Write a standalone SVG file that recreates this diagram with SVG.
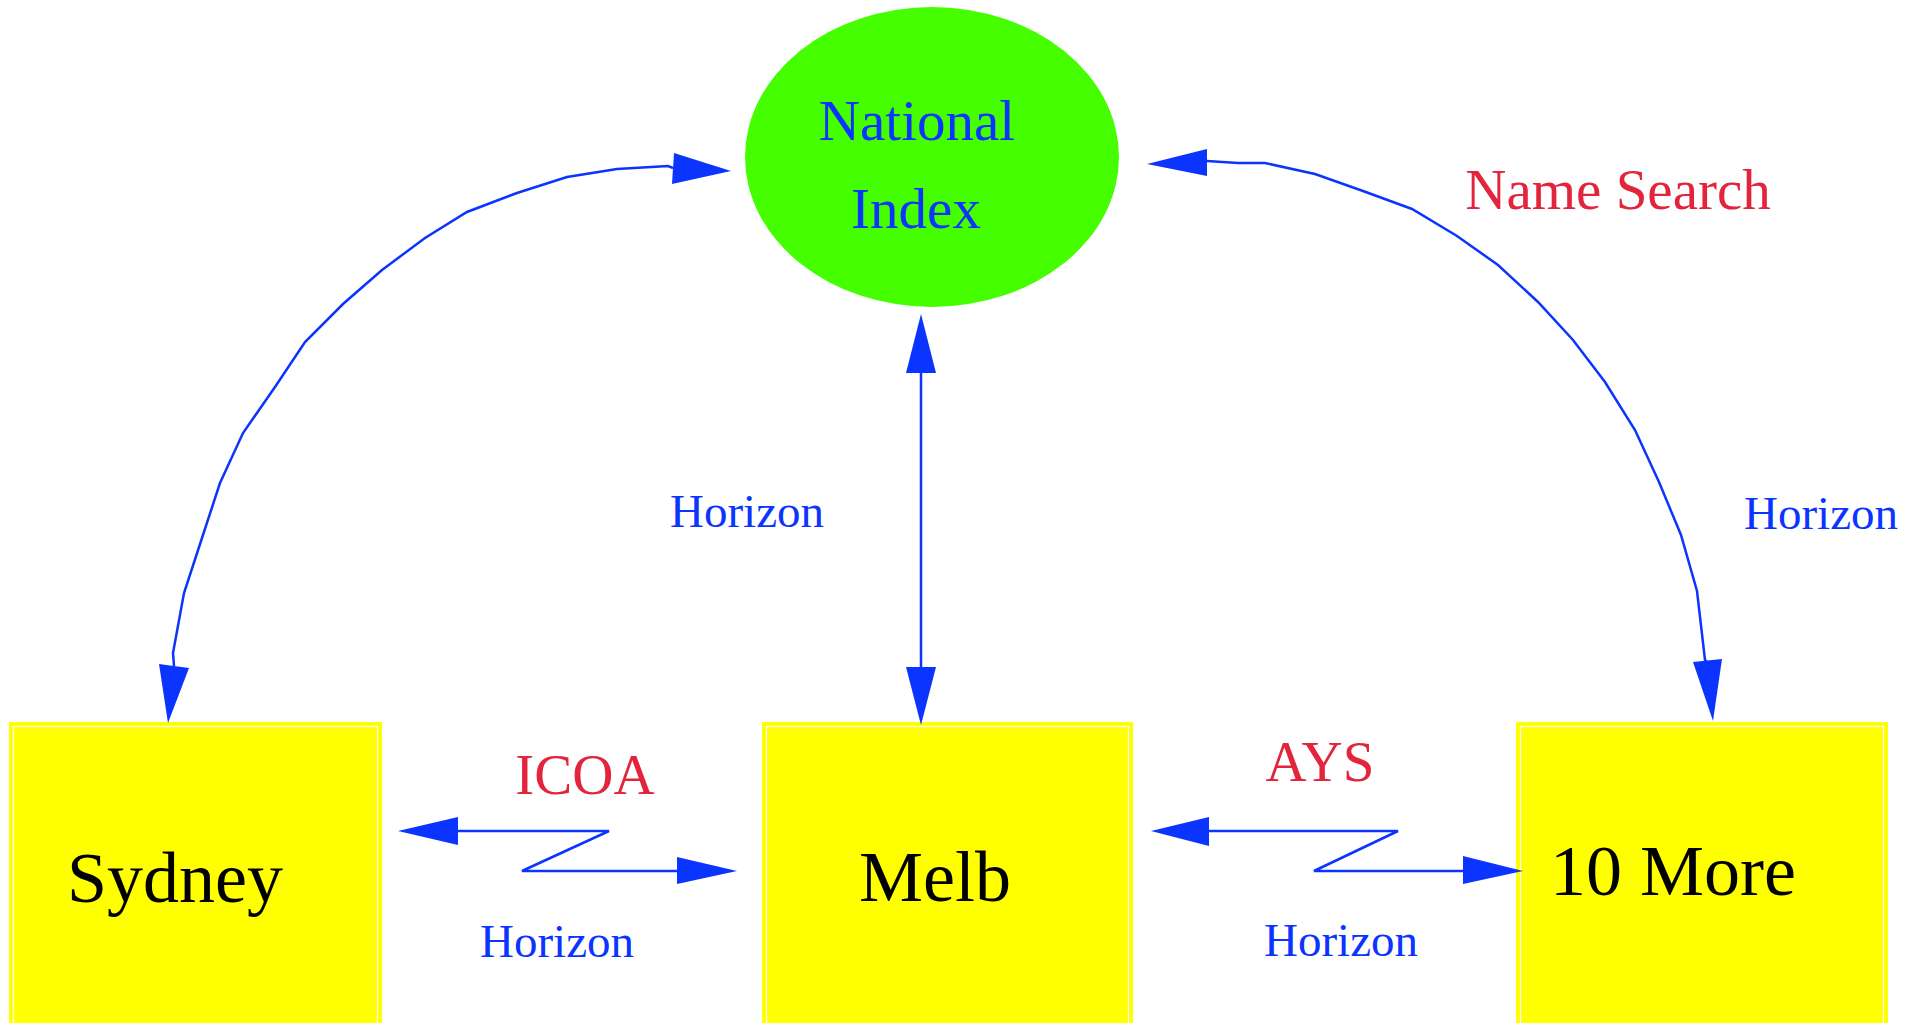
<svg xmlns="http://www.w3.org/2000/svg" width="1923" height="1023" viewBox="0 0 1923 1023">
<style>
.edge{fill:none;stroke:#0b34ff;stroke-width:2.5;stroke-linejoin:miter}
.head{fill:#0b34ff;stroke:none}
.box{fill:#ffff00;stroke:#ffff00;stroke-width:2}
.inner{fill:none;stroke:#ffffff;stroke-width:1.2}
.t{font-family:"Liberation Serif","Times New Roman",serif;text-anchor:middle}
.node{fill:#000000;font-size:72px}
.blue{fill:#0b34ff}
.red{fill:#e2243c;font-size:57px}
.hz{font-size:47px}
</style>
<rect width="1923" height="1023" fill="#ffffff"/>
<g id="node-national-index">
<ellipse cx="932" cy="157" rx="187" ry="150" fill="#45ff00"/>
<text class="t blue" x="917" y="140" font-size="57">National</text>
<text class="t blue" x="916" y="228" font-size="57">Index</text>
</g>
<g id="node-sydney">
<rect class="box" x="10" y="723" width="371" height="320"/>
<rect class="inner" x="13.5" y="726.5" width="364" height="320"/>
<text class="t node" x="175" y="902" font-size="70">Sydney</text>
</g>
<g id="node-melb">
<rect class="box" x="763" y="723" width="369" height="320"/>
<rect class="inner" x="766.5" y="726.5" width="362" height="320"/>
<text class="t node" x="935" y="901">Melb</text>
</g>
<g id="node-10-more">
<rect class="box" x="1517" y="723" width="370" height="320"/>
<rect class="inner" x="1520.5" y="726.5" width="363" height="320"/>
<text class="t node" x="1673" y="895" font-size="73">10 More</text>
</g>
<g id="connectors">
<polyline class="edge" points="174,666 173,653 184,593 202,538 220,483 243,433 275,387 305,342 343,304 382,270 425,238 467,212 517,193 567,177 617,169 668,166 673,168"/>
<polygon class="head" points="168,723 159,664 189,668"/>
<polygon class="head" points="731,171 674,153 672,184"/>
<line class="edge" x1="921" y1="372" x2="921" y2="668"/>
<polygon class="head" points="921,314 906,373 936,373"/>
<polygon class="head" points="921,725 906,667 936,667"/>
<polyline class="edge" points="1207,161 1238,163 1265,163 1315,174 1363,191 1412,209 1457,236 1498,265 1538,302 1573,340 1605,382 1635,430 1659,482 1681,535 1697,591 1705,660 1707,662"/>
<polygon class="head" points="1147,164 1207,149 1207,176"/>
<polygon class="head" points="1713,721 1693,662 1722,659"/>
<polyline class="edge" points="457,831 609,831 522,871 678,871"/>
<polygon class="head" points="398,831 458,817 458,845"/>
<polygon class="head" points="737,871 677,857 677,884"/>
<polyline class="edge" points="1208,831 1398,831 1314,871 1464,871"/>
<polygon class="head" points="1151,831 1209,817 1209,846"/>
<polygon class="head" points="1523,871 1463,856 1463,884"/>
</g>
<g id="labels">
<text class="t blue hz" x="747" y="527">Horizon</text>
<text class="t blue hz" x="1821" y="529">Horizon</text>
<text class="t red" x="1618" y="209">Name Search</text>
<text class="t red" x="585" y="794">ICOA</text>
<text class="t blue hz" x="557" y="957">Horizon</text>
<text class="t red" x="1320" y="781">AYS</text>
<text class="t blue hz" x="1341" y="956">Horizon</text>
</g>
</svg>
